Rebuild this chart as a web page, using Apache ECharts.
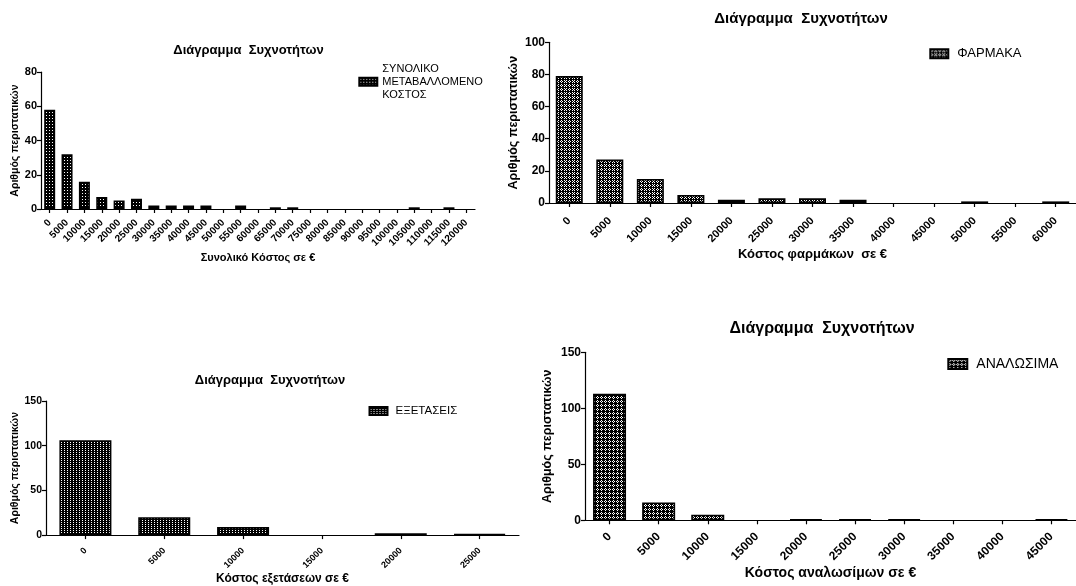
<!DOCTYPE html>
<html>
<head>
<meta charset="utf-8">
<script src="https://cdn.jsdelivr.net/npm/echarts@6/dist/echarts.min.js"></script>
<style>
html,body{margin:0;padding:0;background:#fff;}
#c{width:1076px;height:586px;}
</style>
</head>
<body>
<div id="c"></div>
<script>
// ---------- DATA ----------
const chartTitle = 'Διάγραμμα  Συχνοτήτων';
const yAxisName = 'Αριθμός περιστατικών';

const catsTotal = ['0','5000','10000','15000','20000','25000','30000','35000','40000','45000','50000','55000','60000','65000','70000','75000','80000','85000','90000','95000','100000','105000','110000','115000','120000'];
const valsTotal = [58,32,16,7,5,6,2,2,2,2,0,2,0,1,1,0,0,0,0,0,0,1,0,1,0];
const nameTotal = 'ΣΥΝΟΛΙΚΟ ΜΕΤΑΒΑΛΛΟΜΕΝΟ ΚΟΣΤΟΣ';
const legendTotal = 'ΣΥΝΟΛΙΚΟ\nΜΕΤΑΒΑΛΛΟΜΕΝΟ\nΚΟΣΤΟΣ';
const xNameTotal = 'Συνολικό Κόστος σε €';

const catsDrug = ['0','5000','10000','15000','20000','25000','30000','35000','40000','45000','50000','55000','60000'];
const valsDrug = [79,27,15,5,2,3,3,2,0,0,1,0,1];
const nameDrug = 'ΦΑΡΜΑΚΑ';
const xNameDrug = 'Κόστος φαρμάκων  σε €';

const catsExam = ['0','5000','10000','15000','20000','25000'];
const valsExam = [106,20,9,0,2,1];
const nameExam = 'ΕΞΕΤΑΣΕΙΣ';
const xNameExam = 'Κόστος εξετάσεων σε €';

const catsCons = ['0','5000','10000','15000','20000','25000','30000','35000','40000','45000'];
const valsCons = [113,16,5,0,1,1,1,0,0,1];
const nameCons = 'ΑΝΑΛΩΣΙΜΑ';
const xNameCons = 'Κόστος αναλωσίμων σε €';

// ---------- STYLE ----------
const FONT = '"Liberation Sans", Arial, Helvetica, sans-serif';

function makePattern(w, h, pts) {
  const c = document.createElement('canvas');
  c.width = w; c.height = h;
  const g = c.getContext('2d');
  g.fillStyle = '#000'; g.fillRect(0, 0, w, h);
  g.fillStyle = '#fff';
  pts.forEach(p => g.fillRect(p[0], p[1], 1, 1));
  return { image: c, repeat: 'repeat' };
}
const patTotal = makePattern(3, 3, [[1,1]]);
const patDrug = makePattern(8, 4, [[1,0],[0,1],[2,1],[1,2],[4,0],[6,0],[5,1],[4,2],[6,2]]);
const patExam = makePattern(3, 2, [[1,0]]);
const patCons = makePattern(4, 4, [[1,0],[0,1],[2,1],[1,2]]);

const panels = [
  { cats: catsTotal, vals: valsTotal, name: nameTotal, legendText: legendTotal, xName: xNameTotal,
    max: 80, interval: 20, grid: {left: 41, top: 72.2, width: 434, height: 136.8},
    barWidth: 11, color: patTotal,
    title: {x: 248.5, y: 50, size: 13},
    yNameGap: 25, yNameSize: 10.5, yLabelSize: 11,
    xLabelSize: 10, xLabelMargin: 12, xNameGap: 49, xNameSize: 11,
    legend: {left: 358.3, top: 49.2, w: 18, h: 8, size: 11, lh: 13, pad: [26, 0, 0, 0]} },
  { cats: catsDrug, vals: valsDrug, name: nameDrug, legendText: nameDrug, xName: xNameDrug,
    max: 100, interval: 20, grid: {left: 549, top: 42.3, width: 532, height: 160.7},
    barWidth: 27, color: patDrug,
    title: {x: 801, y: 19, size: 15},
    yNameGap: 35, yNameSize: 12.5, yLabelSize: 12,
    xLabelSize: 11, xLabelMargin: 16, xNameGap: 43, xNameSize: 13,
    legend: {left: 929.3, top: 46.3, w: 18, h: 9, size: 13, lh: 15, pad: [0, 0, 0, 4]} },
  { cats: catsExam, vals: valsExam, name: nameExam, legendText: nameExam, xName: xNameExam,
    max: 150, interval: 50, grid: {left: 46, top: 401, width: 473, height: 134.3},
    barWidth: 52, color: patExam,
    title: {x: 270, y: 380, size: 13},
    yNameGap: 31, yNameSize: 10.5, yLabelSize: 10.5,
    xLabelSize: 9, xLabelMargin: 14, xNameGap: 43, xNameSize: 12,
    legend: {left: 368.5, top: 404, w: 18, h: 8, size: 11.5, lh: 14, pad: [0, 0, 0, 3]} },
  { cats: catsCons, vals: valsCons, name: nameCons, legendText: nameCons, xName: xNameCons,
    max: 150, interval: 50, grid: {left: 585, top: 352.3, width: 500, height: 168},
    barWidth: 33, color: patCons,
    title: {x: 822, y: 329, size: 16},
    yNameGap: 37.5, yNameSize: 12.5, yLabelSize: 12,
    xLabelSize: 12, xLabelMargin: 14.5, xNameGap: 53, xNameSize: 14,
    legend: {left: 947.3, top: 356, w: 19, h: 10, size: 14, lh: 16, pad: [0, 0, 0, 4]} }
];

const axisLineStyle = { color: '#000', width: 1.2 };
const option = {
  animation: false,
  backgroundColor: '#fff',
  title: [], grid: [], xAxis: [], yAxis: [], series: [], legend: []
};

panels.forEach((p, i) => {
  option.title.push({
    text: chartTitle, left: p.title.x, top: p.title.y, padding: 0,
    textAlign: 'center', textVerticalAlign: 'middle',
    textStyle: { fontSize: p.title.size, fontWeight: 'bold', color: '#000', fontFamily: FONT }
  });
  option.grid.push(Object.assign({ containLabel: false }, p.grid));
  option.xAxis.push({
    type: 'category', gridIndex: i, data: p.cats, boundaryGap: true,
    name: p.xName, nameLocation: 'middle', nameGap: p.xNameGap,
    nameTextStyle: { fontSize: p.xNameSize, fontWeight: 'bold', color: '#000', fontFamily: FONT, verticalAlign: 'middle' },
    axisLine: { show: true, lineStyle: axisLineStyle },
    axisTick: { show: true, alignWithLabel: true, length: 4, lineStyle: axisLineStyle },
    axisLabel: { interval: 0, rotate: 45, fontSize: p.xLabelSize, fontWeight: 'bold', color: '#000', fontFamily: FONT, margin: p.xLabelMargin },
    splitLine: { show: false }
  });
  option.yAxis.push({
    type: 'value', gridIndex: i, min: 0, max: p.max, interval: p.interval,
    name: yAxisName, nameLocation: 'middle', nameRotate: 90, nameGap: p.yNameGap,
    nameTextStyle: { fontSize: p.yNameSize, fontWeight: 'bold', color: '#000', fontFamily: FONT, verticalAlign: 'middle' },
    axisLine: { show: true, lineStyle: axisLineStyle },
    axisTick: { show: true, length: 4, lineStyle: axisLineStyle },
    axisLabel: { fontSize: p.yLabelSize, fontWeight: 'bold', color: '#000', fontFamily: FONT, margin: 4 },
    splitLine: { show: false }
  });
  option.series.push({
    type: 'bar', name: p.name, xAxisIndex: i, yAxisIndex: i,
    data: p.vals.map(v => v === 0 ? { value: v, itemStyle: { borderWidth: 0 } } : v),
    barWidth: p.barWidth,
    itemStyle: { color: p.color, borderColor: '#000', borderWidth: 1.6 },
    emphasis: { disabled: true }, silent: true
  });
  option.legend.push({
    data: [p.name], left: p.legend.left, top: p.legend.top, padding: 0,
    orient: 'vertical', icon: 'rect', itemWidth: p.legend.w, itemHeight: p.legend.h,
    selectedMode: false,
    formatter: () => p.legendText,
    textStyle: { fontSize: p.legend.size, lineHeight: p.legend.lh, color: '#000', fontFamily: FONT, padding: p.legend.pad }
  });
});

const chart = echarts.init(document.getElementById('c'), null, { renderer: 'canvas' });
chart.setOption(option);
</script>
</body>
</html>
